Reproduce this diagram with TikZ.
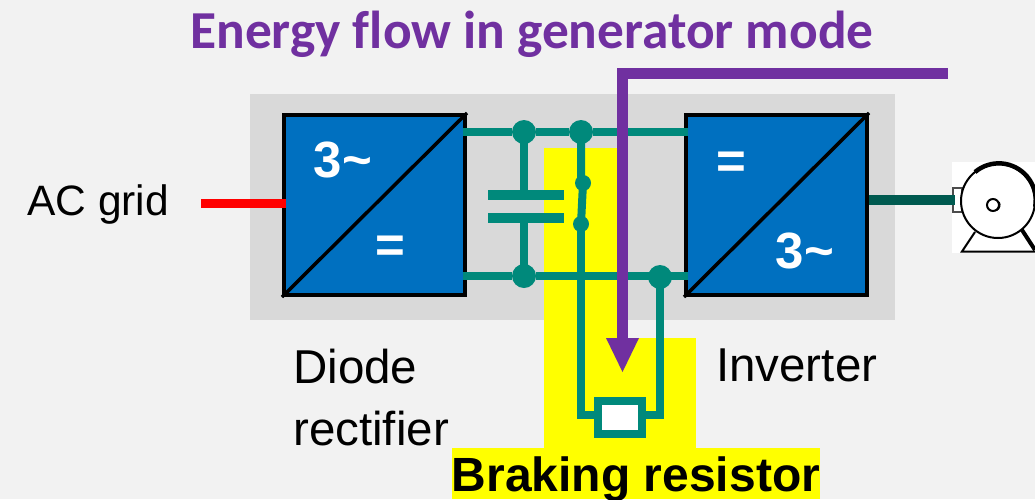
\documentclass[tikz,border=0pt]{standalone}
\usepackage{fontspec}
\setmainfont{Liberation Sans}
\newfontfamily\titlefont[Ligatures=NoCommon]{Carlito}
\definecolor{busteal}{HTML}{00897B}
\definecolor{flowpurple}{HTML}{7030A0}
\definecolor{blockblue}{HTML}{0070C0}
\definecolor{shaftgreen}{HTML}{005A50}
\definecolor{brakeyellow}{HTML}{FFFF00}
\definecolor{pagegray}{HTML}{F2F2F2}
\definecolor{boardgray}{HTML}{D9D9D9}
\tikzset{
    block/.style={draw=black,line width=4pt,fill=blockblue,minimum width=181pt,minimum height=180pt,inner sep=0pt},
    bus/.style={busteal,line width=7.5pt},
    wire/.style={busteal,line width=8pt},
    junction/.style={circle,fill=busteal,minimum size=24pt,inner sep=0pt},
    contact/.style={circle,fill=busteal,minimum size=16pt,inner sep=0pt},
    symb/.style={white,font=\bfseries\fontsize{51}{51}\selectfont,inner sep=0pt},
    label/.style={black,font=\fontsize{47.5}{47.5}\selectfont,inner sep=0pt,anchor=base west},
}
\begin{document}
\begin{tikzpicture}[x=1pt,y=-1pt,>=stealth]
                \useasboundingbox (0,0) rectangle (1035,499);
                \fill [pagegray] (0,0) rectangle (1035,499);
                \fill [boardgray] (250,94) rectangle (895,320);

                % highlight behind the brake branch
                \fill [brakeyellow] (544,148) rectangle (617,340);
                \fill [brakeyellow] (544,338) rectangle (696,449);
                \node [fill=brakeyellow,minimum width=368pt,minimum height=51pt,inner sep=0pt] (brakelabel) at (636,473.5) {};
                \node [black,font=\bfseries\fontsize{48}{48}\selectfont,inner sep=0pt,anchor=base] (braketext) at (636,491) {Braking resistor};

                \node [block] (rectifier) at (374.5,205) {};
                \node [block] (inverter) at (776.5,205) {};
                \draw [black,line width=3.5pt] (rectifier.south west)--(rectifier.north east);
                \draw [black,line width=3.5pt] (inverter.south west)--(inverter.north east);

                \node [symb] (rectac) at (343,160) {3\textasciitilde};
                \node [symb] (rectdc) at (390,249) {=};
                \node [symb] (invdc) at (731,165) {=};
                \node [symb] (invac) at (805,251) {3\textasciitilde};

                \node [junction] (topa) at (524,132) {};
                \node [junction] (topb) at (581,132) {};
                \node [junction] (bota) at (524,276) {};
                \node [junction] (botb) at (660,277) {};
                \node [contact] (conta) at (583,183) {};
                \node [contact] (contb) at (581,224) {};

                \draw [bus] ([xshift=-4pt]rectifier.east|-topa)--(topa)--(topb)--([xshift=4pt]inverter.west|-topb);
                \draw [bus] ([xshift=-4pt]rectifier.east|-bota)--(bota)--([xshift=4pt]inverter.west|-bota);

                % capacitor
                \coordinate (plateal) at (488,195);
                \coordinate (plateb) at (488,218);
                \draw [busteal,line width=10pt] (plateal)--++(76,0);
                \draw [busteal,line width=10pt] (plateb)--++(76,0);
                \draw [bus] (topa.center)--(topa|-plateal);
                \draw [bus] (bota.center)--(bota|-plateb);

                % switch and resistor
                \node [draw=busteal,line width=8pt,fill=white,minimum width=44pt,minimum height=33pt,inner sep=0pt] (resistor) at (620,417.5) {};
                \draw [wire] (topb.center)--(topb|-conta)--(conta.center)--(contb.center);
                \draw [wire] (contb.center)|-([yshift=2.5pt]resistor.west);
                \draw [wire] (botb.center)|-([yshift=2.5pt]resistor.east);

                % energy flow
                \coordinate (flowstart) at (948,73);
                \coordinate (flowtip) at (622,344);
                \draw [flowpurple,line width=11pt] (flowstart)-|(flowtip);
                \fill [flowpurple] (606,338)--(639,338)--(622.5,372)--cycle;

                % motor
                \fill [white] (952,162) rectangle (1035,253);
                \coordinate (motorshaft) at (955,200);
                \draw [black!70,line width=1.5pt] (953,188) rectangle (962,212);
                \draw [black,line width=2pt] (975,232)--(962,251.5)--(1035,251.5);
                \draw [black,line width=4pt] (1022,230)--(1035,250);
                \draw [black,line width=2pt,fill=white] (998,201) circle (37);
                \draw [black,line width=4.5pt] (975,172) arc(-130:10:37);
                \draw [black,line width=2pt] (993,205) circle (6);
                \draw [black,line width=1.5pt] (999,202) arc(-30:60:6);
                \draw [shaftgreen,line width=10pt] (inverter.east|-motorshaft)--(motorshaft);

                \coordinate (gridend) at (201,203);
                \draw [red,line width=9pt] (gridend)--([xshift=4pt]rectifier.west|-gridend);

                \node [label,font=\fontsize{42.5}{42.5}\selectfont] (gridlabel) at (27,215) {AC grid};
                \node [label] (diodelabel) at (293,383) {Diode};
                \node [label] (rectlabel) at (293,445) {rectifier};
                \node [label] (invlabel) at (716,381) {Inverter};
                \node [flowpurple,font=\titlefont\bfseries\fontsize{53.4}{53.4}\selectfont,inner sep=0pt,anchor=base] (title) at (532,48) {Energy flow in generator mode};
\end{tikzpicture}
\end{document}
